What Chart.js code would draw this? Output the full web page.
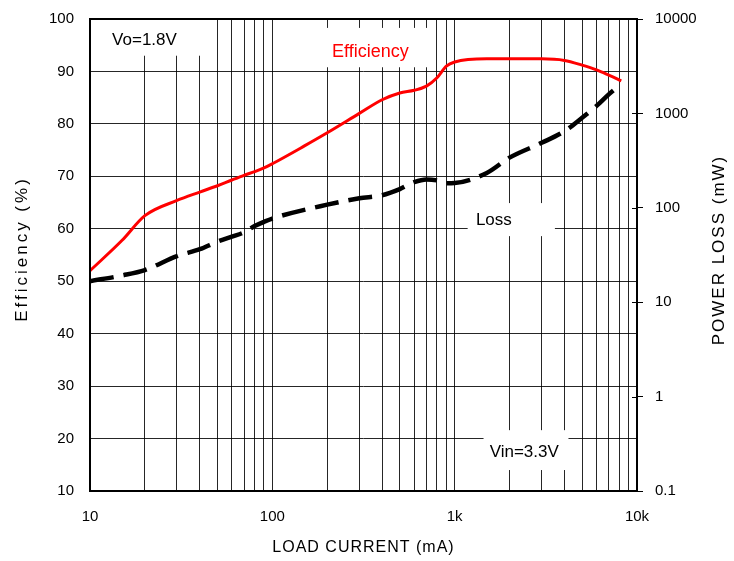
<!DOCTYPE html>
<html>
<head>
<meta charset="utf-8">
<script src="https://cdn.jsdelivr.net/npm/chart.js@4.4.0/dist/chart.umd.min.js"></script>
<style>
  html, body { margin: 0; padding: 0; background: #fff; }
  #chart { display: block; }
</style>
</head>
<body>
<canvas id="chart" width="734" height="561"></canvas>
<script>
// Efficiency curve (left axis, %)
const effCurrent = [10, 15, 20, 30, 40, 50, 60, 70, 80, 90, 100, 150, 200, 300, 400, 500, 600, 700, 800, 900, 1000, 1500, 2000, 3000, 4000, 5000, 6000, 7000, 8200];
const effValues  = [52.0, 57.8, 62.5, 65.4, 67.0, 68.2, 69.3, 70.2, 70.9, 71.6, 72.4, 75.8, 78.3, 82.0, 84.6, 85.9, 86.4, 87.2, 88.8, 91.0, 91.8, 92.4, 92.4, 92.4, 92.1, 91.2, 90.3, 89.3, 88.2];

// Power loss curve (right axis, mW)
const lossCurrent = [10, 15, 20, 30, 40, 50, 60, 70, 80, 90, 100, 200, 300, 400, 500, 600, 700, 800, 900, 1000, 1500, 2000, 3000, 4000, 5000, 6000, 7000, 7700];
const lossValues  = [16.7, 19.2, 21.9, 30.8, 36.4, 43.8, 49.5, 55, 64, 71, 77, 108, 126, 136, 158, 187, 200, 195, 182, 183, 234, 340, 488, 648, 900, 1200, 1590, 1850];

// axis ticks
const xMajorValues = [10, 100, 1000, 10000];
const xTickLabels = ['10', '100', '1k', '10k'];
const xMinorSteps = [1, 2, 3, 4, 5, 6, 7, 8, 9];
const lossTickValues = [0.1, 1, 10, 100, 1000, 10000];
const lossTickLabels = ['0.1', '1', '10', '100', '1000', '10000'];

// grid lines for the log x axis: 10,20..90,100,200..
const xGridValues = [];
xMajorValues.slice(0, -1).forEach(d => xMinorSteps.forEach(m => xGridValues.push(d * m)));
xGridValues.push(10000);

// text boxes: box = [xFrom, xTo, yTop, yBottom], at = [x, y] in data units
const notes = [
    { text: 'Vo=1.8V',   color: '#000', font: '17px "Liberation Sans", Arial', box: [10, 49.2, 100, 93.0],  at: [19.9, 96.0] },
    { text: 'Efficiency', color: '#ff0000', font: '18px "Liberation Sans", Arial', box: [187, 754, 98.3, 90.8], at: [345, 93.7] },
    { text: 'Loss',      color: '#000', font: '17px "Liberation Sans", Arial', box: [1178, 3546, 64.9, 58.6], at: [1640, 61.6] },
    { text: 'Vin=3.3V',  color: '#000', font: '17px "Liberation Sans", Arial', box: [1440, 4208, 21.6, 14.0], at: [2407, 17.4] }
];

const gridColor = 'rgba(0,0,0,0.85)';

function noScalePadding(scale) {
    scale.paddingTop = 0;
    scale.paddingBottom = 0;
    scale.paddingLeft = 0;
    scale.paddingRight = 0;
}

const decor = {
    id: 'decor',
    beforeDatasetsDraw(chart) {
        const { ctx, scales: { x, y } } = chart;
        ctx.save();
        notes.forEach(n => {
            const x0 = x.getPixelForValue(n.box[0]);
            const x1 = x.getPixelForValue(n.box[1]);
            const y0 = y.getPixelForValue(n.box[2]);
            const y1 = y.getPixelForValue(n.box[3]);
            ctx.fillStyle = '#fff';
            ctx.fillRect(x0, y0, x1 - x0, y1 - y0);
            ctx.font = n.font;
            ctx.fillStyle = n.color;
            ctx.textAlign = 'center';
            ctx.textBaseline = 'middle';
            ctx.fillText(n.text, x.getPixelForValue(n.at[0]), y.getPixelForValue(n.at[1]));
        });
        ctx.restore();
    },
    afterDraw(chart) {
        const { ctx, chartArea: a, scales: { y2 } } = chart;
        ctx.save();
        // frame
        ctx.strokeStyle = '#000';
        ctx.lineWidth = 2;
        ctx.strokeRect(a.left, a.top, a.right - a.left, a.bottom - a.top);
        // inner half of the right axis tick marks
        ctx.lineWidth = 1;
        lossTickValues.forEach(v => {
            const py = Math.round(y2.getPixelForValue(v)) + 0.5;
            ctx.beginPath();
            ctx.moveTo(a.right - 5, py);
            ctx.lineTo(a.right, py);
            ctx.stroke();
        });
        // axis titles
        ctx.fillStyle = '#000';
        ctx.textAlign = 'center';
        ctx.textBaseline = 'middle';
        ctx.font = '16px "Liberation Sans", Arial';
        ctx.letterSpacing = '1px';
        ctx.fillText('LOAD CURRENT (mA)', (a.left + a.right) / 2, 548);

        ctx.font = '17px "Liberation Sans", Arial';
        ctx.letterSpacing = '3px';
        ctx.save();
        ctx.translate(22, 249);
        ctx.rotate(-Math.PI / 2);
        ctx.fillText('Efficiency (%)', 0, 0);
        ctx.restore();

        ctx.letterSpacing = '2px';
        ctx.save();
        ctx.translate(719, 250);
        ctx.rotate(-Math.PI / 2);
        ctx.fillText('POWER LOSS (mW)', 0, 0);
        ctx.restore();
        ctx.restore();
    }
};

Chart.defaults.font.family = '"Liberation Sans", Arial, sans-serif';
Chart.defaults.font.size = 15;
Chart.defaults.color = '#000';

new Chart(document.getElementById('chart'), {
    type: 'line',
    data: {
        datasets: [
            {
                label: 'Efficiency',
                data: effCurrent.map((c, i) => ({ x: c, y: effValues[i] })),
                yAxisID: 'y',
                borderColor: '#ff0000',
                borderWidth: 3,
                pointRadius: 0,
                cubicInterpolationMode: 'monotone',
                fill: false
            },
            {
                label: 'Loss',
                data: lossCurrent.map((c, i) => ({ x: c, y: lossValues[i] })),
                yAxisID: 'y2',
                borderColor: '#000',
                borderWidth: 4.5,
                borderDash: [24, 10],
                pointRadius: 0,
                cubicInterpolationMode: 'monotone',
                fill: false
            }
        ]
    },
    options: {
        responsive: false,
        animation: false,
        layout: { padding: { top: 19, left: 0, right: 0, bottom: 0 } },
        plugins: { legend: { display: false }, tooltip: { enabled: false } },
        scales: {
            x: {
                type: 'logarithmic',
                min: 10,
                max: 10000,
                afterBuildTicks: scale => { scale.ticks = xGridValues.map(v => ({ value: v })); },
                afterFit: scale => { scale.height = 70; noScalePadding(scale); },
                ticks: {
                    autoSkip: false,
                    maxRotation: 0,
                    padding: 17,
                    callback: v => {
                        const i = xMajorValues.indexOf(v);
                        return i >= 0 ? xTickLabels[i] : '';
                    }
                },
                grid: { color: gridColor, lineWidth: 1, drawTicks: false },
                border: { display: false }
            },
            y: {
                position: 'left',
                min: 10,
                max: 100,
                afterFit: scale => { scale.width = 90; noScalePadding(scale); },
                ticks: { stepSize: 10, padding: 16 },
                grid: { color: gridColor, lineWidth: 1, drawTicks: false },
                border: { display: false }
            },
            y2: {
                type: 'logarithmic',
                position: 'right',
                min: 0.1,
                max: 10000,
                afterBuildTicks: scale => { scale.ticks = lossTickValues.map(v => ({ value: v })); },
                afterFit: scale => { scale.width = 97; noScalePadding(scale); },
                ticks: {
                    autoSkip: false,
                    padding: 12,
                    callback: v => {
                        const i = lossTickValues.indexOf(v);
                        return i >= 0 ? lossTickLabels[i] : '';
                    }
                },
                grid: { drawOnChartArea: false, drawTicks: true, tickLength: 6, color: '#000' },
                border: { display: false }
            }
        }
    },
    plugins: [decor]
});
</script>
</body>
</html>
